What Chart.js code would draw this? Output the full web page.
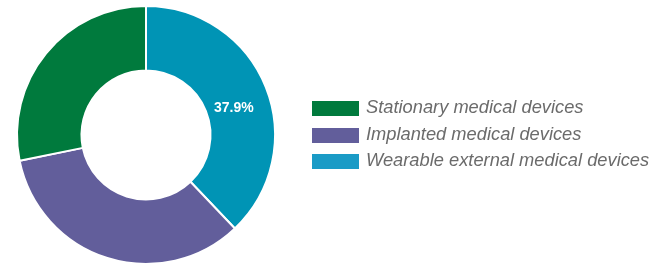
<!DOCTYPE html>
<html>
<head>
<meta charset="utf-8">
<script src="https://cdn.jsdelivr.net/npm/chart.js@4"></script>
<style>
  html, body { margin: 0; padding: 0; background: #fff; }
  #wrap { width: 660px; height: 265px; position: relative; }
  #legend { position: absolute; left: 312px; top: 94px; }
  .legend-row { display: flex; align-items: center; height: 26.5px; }
  .legend-box { width: 47px; height: 15px; margin-top: 3px; margin-right: 7px; }
  .legend-text { font: italic 18.3px "Liberation Sans", Arial, sans-serif; color: #6b6b6b; white-space: nowrap; }
</style>
</head>
<body>
<div id="wrap">
  <canvas id="myChart"></canvas>
  <div id="legend"></div>
</div>
<script>
// drawn clockwise from 12 o'clock: wearable, implanted, stationary
const labels = ['Wearable external medical devices', 'Implanted medical devices', 'Stationary medical devices'];
const shares = [37.9, 33.9, 28.2];
const shownLabels = ['37.9%', '', ''];
const colors = ['#0094b5', '#625e9b', '#007a3d'];
const legendColors = ['#1a9bc6', '#625e9b', '#007a3d'];

const ctx = document.getElementById('myChart');

const sliceLabels = {
    id: 'sliceLabels',
    afterDatasetsDraw(chart) {
        const c = chart.ctx;
        const meta = chart.getDatasetMeta(0);
        c.save();
        c.fillStyle = '#fff';
        c.font = 'bold 14px "Liberation Sans", Arial, sans-serif';
        c.textAlign = 'center';
        c.textBaseline = 'middle';
        meta.data.forEach(function(arc, i) {
            if (!shownLabels[i]) return;
            const p = arc.tooltipPosition();
            c.fillText(shownLabels[i], p.x - 2, p.y + 9);
        });
        c.restore();
    }
};

const chart = new Chart(ctx, {
    type: 'doughnut',
    data: {
        labels: labels,
        datasets: [{
            data: shares,
            backgroundColor: colors,
            borderColor: '#fff',
            borderWidth: 2
        }]
    },
    options: {
        responsive: true,
        maintainAspectRatio: false,
        animation: false,
        cutout: '50%',
        layout: { padding: { top: 5, right: 368 } },
        plugins: {
            legend: { display: false },
            tooltip: { enabled: false }
        }
    },
    plugins: [sliceLabels]
});

// legend lists the series bottom-up compared with the drawing order
const legendDiv = document.getElementById('legend');
for (let i = labels.length - 1; i >= 0; i--) {
    const row = document.createElement('div');
    row.className = 'legend-row';
    const box = document.createElement('span');
    box.className = 'legend-box';
    box.style.background = legendColors[i];
    const txt = document.createElement('span');
    txt.className = 'legend-text';
    txt.textContent = chart.data.labels[i];
    row.appendChild(box);
    row.appendChild(txt);
    legendDiv.appendChild(row);
}
</script>
</body>
</html>
